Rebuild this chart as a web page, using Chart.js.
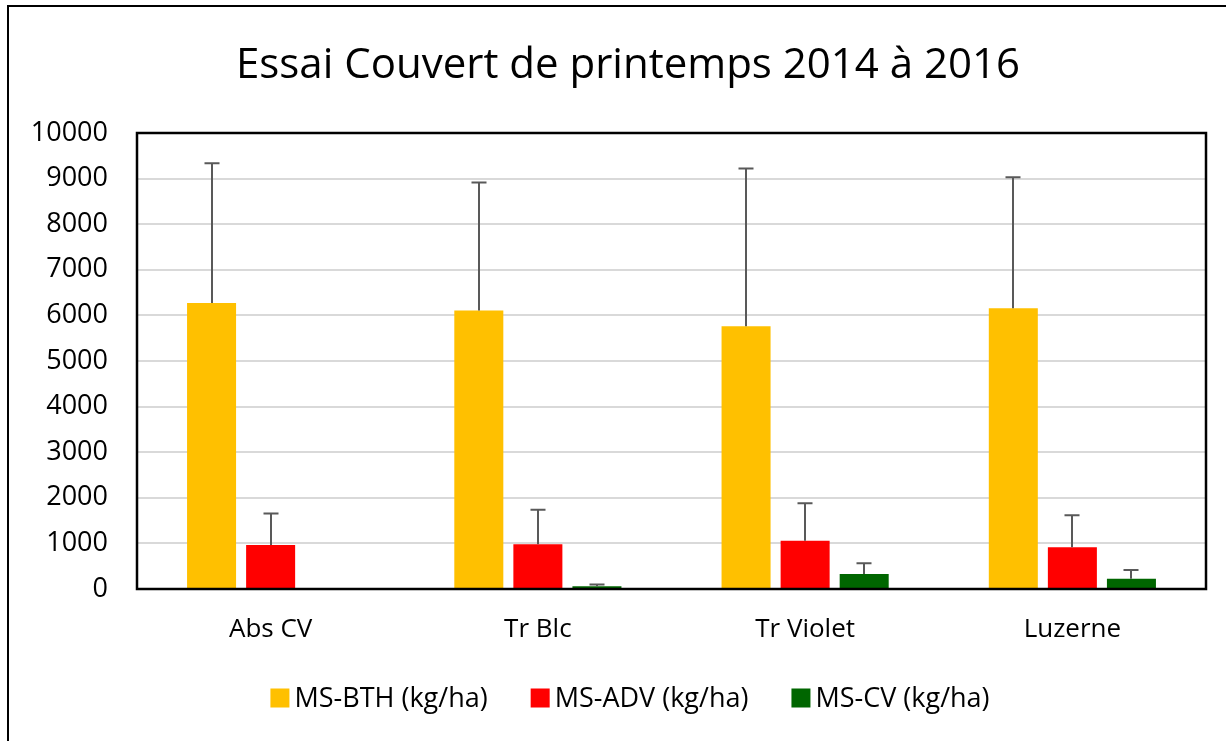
<!DOCTYPE html>
<html>
<head>
<meta charset="utf-8">
<script src="https://cdn.jsdelivr.net/npm/chart.js@4.4.1/dist/chart.umd.min.js"></script>
<style>
  html, body { margin: 0; padding: 0; background: #fff; overflow: hidden; }
  #wrap { position: relative; width: 1226px; height: 741px; }
</style>
</head>
<body>
<div id="wrap"><canvas id="c" width="1226" height="741"></canvas></div>
<script>
const titleText = 'Essai Couvert de printemps 2014 à 2016';
const categories = ['Abs CV', 'Tr Blc', 'Tr Violet', 'Luzerne'];
const seriesNames = ['MS-BTH (kg/ha)', 'MS-ADV (kg/ha)', 'MS-CV (kg/ha)'];
const seriesColors = ['#FFC000', '#FF0000', '#006600'];
const bthValues = [6270, 6110, 5760, 6155];
const bthErrors = [3065, 2805, 3460, 2875];
const advValues = [965, 980, 1060, 915];
const advErrors = [690, 760, 820, 700];
const cvValues = [0, 60, 330, 225];
const cvErrors = [0, 40, 235, 190];
const yTicks = [0, 1000, 2000, 3000, 4000, 5000, 6000, 7000, 8000, 9000, 10000];

const FONT = "'Open Sans', 'Noto Sans', sans-serif";
const errorSets = [bthErrors, advErrors, cvErrors];

const customDecor = {
  id: 'customDecor',
  beforeDraw(chart) {
    const ctx = chart.ctx;
    ctx.save();
    ctx.fillStyle = '#fff';
    ctx.fillRect(0, 0, chart.width, chart.height);
    // outer chart frame (clipped at right and bottom)
    ctx.strokeStyle = '#000';
    ctx.lineWidth = 2;
    ctx.strokeRect(8, 6, 1400, 900);
    // title
    ctx.fillStyle = '#000';
    ctx.font = '42px ' + FONT;
    ctx.textAlign = 'center';
    ctx.textBaseline = 'alphabetic';
    ctx.fillText(titleText, 628, 78);
    ctx.restore();
  },
  afterDatasetsDraw(chart) {
    const ctx = chart.ctx;
    const ys = chart.scales.y;
    ctx.save();
    ctx.strokeStyle = '#595959';
    ctx.lineWidth = 2;
    chart.data.datasets.forEach((ds, di) => {
      const meta = chart.getDatasetMeta(di);
      const errs = errorSets[di];
      meta.data.forEach((bar, i) => {
        const e = errs[i];
        if (!e) return;
        const yTop = ys.getPixelForValue(ds.data[i] + e);
        const x = Math.round(bar.x);
        ctx.beginPath();
        ctx.moveTo(x, bar.y);
        ctx.lineTo(x, yTop);
        ctx.moveTo(x - 7.5, yTop);
        ctx.lineTo(x + 7.5, yTop);
        ctx.stroke();
      });
    });
    ctx.restore();
  },
  afterDraw(chart) {
    const a = chart.chartArea;
    const ctx = chart.ctx;
    ctx.save();
    ctx.strokeStyle = '#000';
    ctx.lineWidth = 2.5;
    ctx.strokeRect(a.left, a.top, a.right - a.left, a.bottom - a.top);
    // legend
    ctx.font = '27px ' + FONT;
    ctx.textBaseline = 'middle';
    ctx.textAlign = 'left';
    const box = 19, gapText = 5, gapItem = 43;
    const items = chart.data.datasets.map(ds => ({
      text: ds.label, color: ds.backgroundColor, w: ctx.measureText(ds.label).width
    }));
    let total = 0;
    items.forEach((it, i) => { total += box + gapText + it.w + (i < items.length - 1 ? gapItem : 0); });
    let x = 630 - total / 2;
    const cy = 698;
    items.forEach(it => {
      ctx.fillStyle = it.color;
      ctx.fillRect(x, cy - box / 2, box, box);
      x += box + gapText;
      ctx.fillStyle = '#000';
      ctx.fillText(it.text, x, cy + 1);
      x += it.w + gapItem;
    });
    ctx.restore();
  }
};

new Chart(document.getElementById('c'), {
  type: 'bar',
  data: {
    labels: categories,
    datasets: [
      { label: seriesNames[0], data: bthValues, backgroundColor: seriesColors[0] },
      { label: seriesNames[1], data: advValues, backgroundColor: seriesColors[1] },
      { label: seriesNames[2], data: cvValues, backgroundColor: seriesColors[2] }
    ]
  },
  options: {
    responsive: false,
    animation: false,
    devicePixelRatio: 1,
    layout: { padding: { left: 0, right: 20, top: 133, bottom: 72 } },
    datasets: { bar: { categoryPercentage: 0.663, barPercentage: 0.83 } },
    plugins: {
      title: { display: false },
      legend: { display: false },
      tooltip: { enabled: false }
    },
    scales: {
      x: {
        grid: { display: false, drawTicks: false },
        border: { display: false },
        ticks: { color: '#000', font: { family: FONT, size: 26 }, padding: 25 },
        afterFit(s) { s.height = 80; }
      },
      y: {
        min: 0, max: 10000,
        afterBuildTicks(s) { s.ticks = yTicks.map(v => ({ value: v })); },
        grid: { color: '#d9d9d9', lineWidth: 2, drawTicks: false },
        border: { display: false },
        ticks: { color: '#000', font: { family: FONT, size: 27 }, padding: 29, callback: v => String(v) },
        afterFit(s) { s.width = 137; }
      }
    }
  },
  plugins: [customDecor]
});
</script>
</body>
</html>
